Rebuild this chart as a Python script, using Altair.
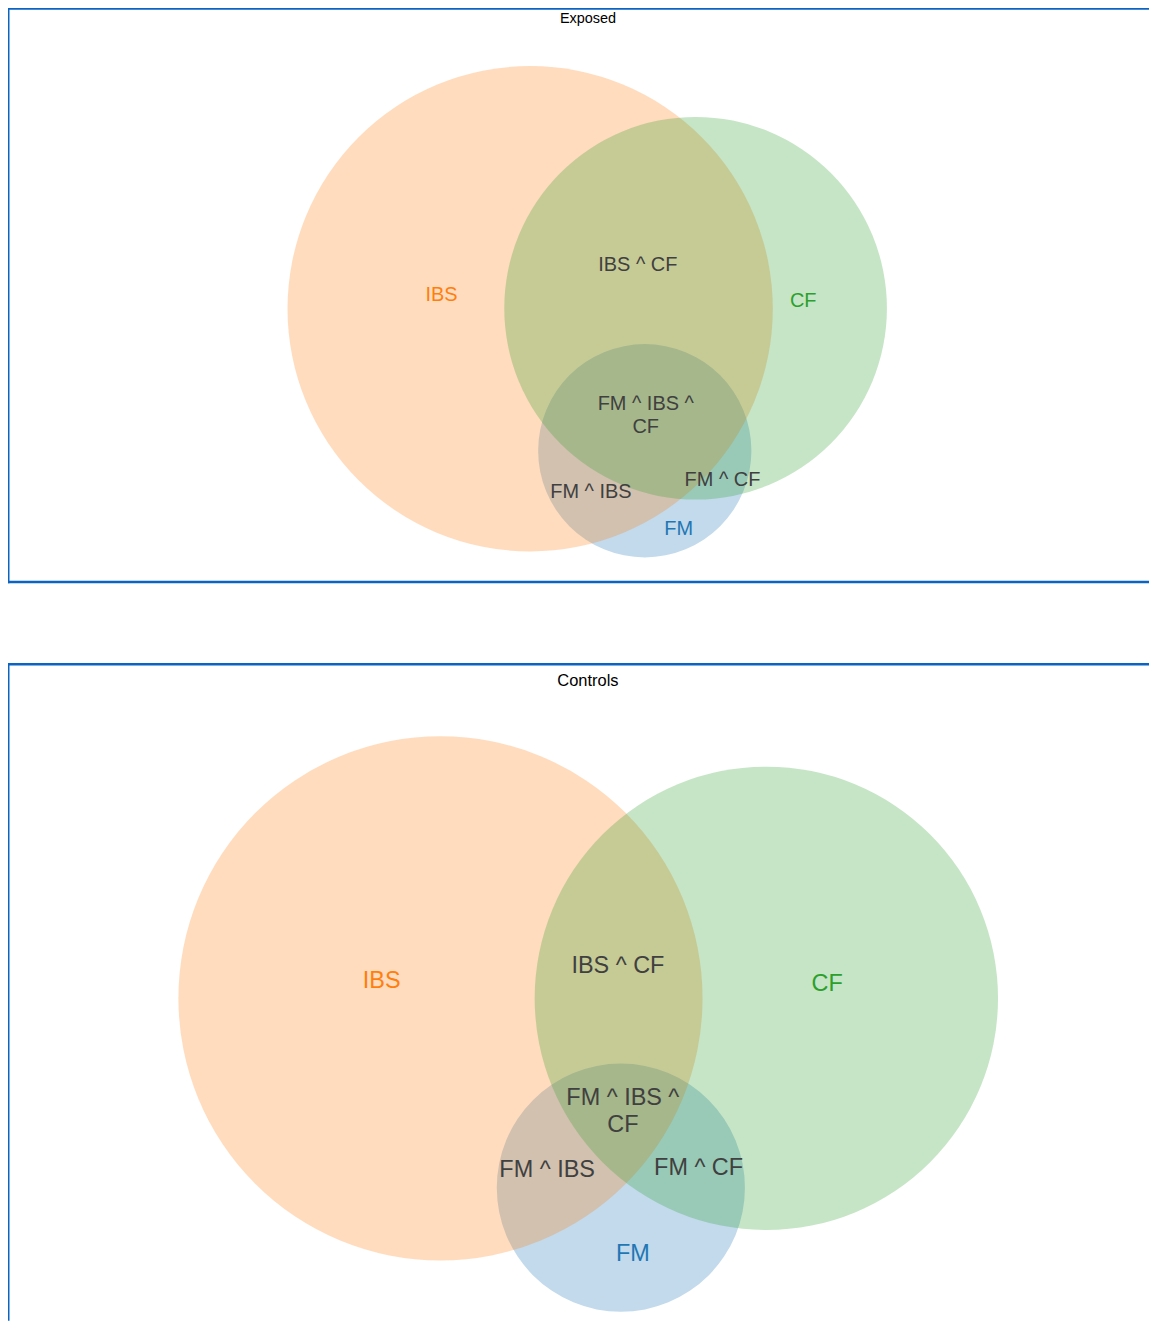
import altair as alt
import pandas as pd

# ---------------- data (layout of each Venn panel, in panel pixel units) ----------------
sets = ["FM", "IBS", "CF"]

# Exposed panel
exp_cx = [637, 522, 688]
exp_cy = [444, 301.5, 301]
exp_r = [107, 243.5, 192]
exp_labels = ["IBS", "IBS ^ CF", "CF", "FM ^ IBS ^\nCF", "FM ^ IBS", "FM ^ CF", "FM"]
exp_label_group = ["IBS", "overlap", "CF", "overlap", "overlap", "overlap", "FM"]
exp_lx = [433, 630, 796, 638, 583, 715, 671]
exp_ly = [287.5, 257.5, 293.5, 397.5, 485.5, 473.5, 522.5]

# Controls panel
ctl_cx = [613, 432, 759]
ctl_cy = [522.5, 332.5, 332.5]
ctl_r = [124.5, 263, 232.5]
ctl_labels = ["IBS", "IBS ^ CF", "CF", "FM ^ IBS ^\nCF", "FM ^ IBS", "FM ^ CF", "FM"]
ctl_label_group = ["IBS", "overlap", "CF", "overlap", "overlap", "overlap", "FM"]
ctl_lx = [373, 610, 820, 615, 539, 691, 625]
ctl_ly = [315, 300, 318, 433, 505, 503, 589]

titles = ["Exposed", "Controls"]

# ---------------- styling ----------------
W = 1146
H1 = 578
H2 = 660
BORDER = "#0b63c4"
SW = 2.5
XSHIFT = -3
color_scale = alt.Scale(
    domain=["IBS", "CF", "FM", "overlap"],
    range=["#ff7f0e", "#2ca02c", "#1f77b4", "#404040"],
)


def panel(title, cx, cy, r, labels, groups, lx, ly, height, yshift, fs, tfs, ty, bottom_border):
    circles = pd.DataFrame({"set": sets, "x": cx, "y": cy, "d": [2 * v for v in r]})
    texts = pd.DataFrame({"label": labels, "group": groups, "x": lx, "y": ly})
    xs = alt.Scale(domain=[XSHIFT, W + XSHIFT], range=[0, W], nice=False, zero=False)
    ys = alt.Scale(domain=[yshift, height + yshift], range=[0, height], nice=False, zero=False)

    circ = alt.Chart(circles).mark_point(
        shape="circle", filled=True, opacity=0.27, strokeWidth=0
    ).encode(
        x=alt.X("x:Q", scale=xs, axis=None),
        y=alt.Y("y:Q", scale=ys, axis=None),
        size=alt.Size(
            "d:Q",
            scale=alt.Scale(type="pow", exponent=2, domain=[0, 1000], range=[0, 1000000]),
            legend=None,
        ),
        color=alt.Color("set:N", scale=color_scale, legend=None),
        order=alt.Order("o:Q"),
    ).transform_window(o="row_number()")

    lab = alt.Chart(texts).mark_text(
        font="Liberation Sans", fontSize=fs, lineBreak="\n", lineHeight=fs * 1.15,
        baseline="middle", align="center",
    ).encode(
        x=alt.X("x:Q", scale=xs, axis=None),
        y=alt.Y("y:Q", scale=ys, axis=None),
        text="label:N",
        color=alt.Color("group:N", scale=color_scale, legend=None),
    )

    one = pd.DataFrame({"t": [title]})
    ttl = alt.Chart(one).mark_text(
        font="Liberation Sans", fontSize=tfs, color="#000000", baseline="middle", align="center"
    ).encode(x=alt.value(583), y=alt.value(ty), text="t:N")

    top = alt.Chart(one).mark_rule(color=BORDER, strokeWidth=SW).encode(
        x=alt.value(0), x2=alt.value(W), y=alt.value(SW / 2))
    left = alt.Chart(one).mark_rule(color=BORDER, strokeWidth=SW).encode(
        x=alt.value(SW / 2), y=alt.value(0), y2=alt.value(height))
    layers = [circ, lab, ttl, top, left]
    if bottom_border:
        bottom = alt.Chart(one).mark_rule(color=BORDER, strokeWidth=SW).encode(
            x=alt.value(0), x2=alt.value(W), y=alt.value(height - SW / 2))
        layers.append(bottom)
    return alt.layer(*layers).properties(width=W, height=height)


p1 = panel(titles[0], exp_cx, exp_cy, exp_r, exp_labels, exp_label_group,
           exp_lx, exp_ly, H1, -1, 20, 14.5, 12, True)
p2 = panel(titles[1], ctl_cx, ctl_cy, ctl_r, ctl_labels, ctl_label_group,
           ctl_lx, ctl_ly, H2, -4, 23.5, 16.5, 18, False)

chart = alt.vconcat(p1, p2, spacing=76).properties(
    padding={"left": -3, "top": -5, "right": 0, "bottom": 0}
).configure_view(strokeWidth=0)

chart.save("out.html", embed_options={"renderer": "svg", "actions": False})
